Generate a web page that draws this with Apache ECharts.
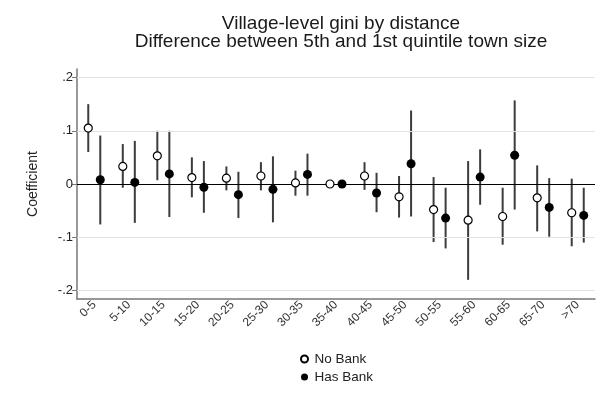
<!DOCTYPE html>
<html>
<head>
<meta charset="utf-8">
<script src="https://cdn.jsdelivr.net/npm/echarts@6/dist/echarts.min.js"></script>
<style>html,body{margin:0;padding:0;background:#fff}#c{width:603px;height:406px}</style>
</head>
<body>
<div id="c"></div>
<script>
var categories = ['0-5','5-10','10-15','15-20','20-25','25-30','30-35','35-40','40-45','45-50','50-55','55-60','60-65','65-70','>70'];
var noBankCoef = [0.105, 0.033, 0.053, 0.012, 0.011, 0.015, 0.002, 0.000, 0.015, -0.024, -0.048, -0.068, -0.061, -0.026, -0.054];
var noBankLo   = [0.060, -0.007, 0.007, -0.025, -0.012, -0.012, -0.022, -0.002, -0.011, -0.063, -0.109, -0.180, -0.114, -0.089, -0.117];
var noBankHi   = [0.150, 0.075, 0.100, 0.050, 0.033, 0.041, 0.025, 0.002, 0.041, 0.015, 0.013, 0.043, -0.007, 0.035, 0.010];
var hasBankCoef = [0.008, 0.003, 0.019, -0.006, -0.020, -0.010, 0.018, 0.000, -0.017, 0.038, -0.064, 0.013, 0.054, -0.044, -0.059];
var hasBankLo   = [-0.076, -0.073, -0.062, -0.054, -0.064, -0.072, -0.022, -0.002, -0.053, -0.061, -0.121, -0.039, -0.048, -0.099, -0.110];
var hasBankHi   = [0.091, 0.081, 0.100, 0.043, 0.023, 0.052, 0.057, 0.002, 0.021, 0.138, -0.007, 0.065, 0.157, 0.011, -0.007];
var yTicks = [-0.2, -0.1, 0, 0.1, 0.2];
var yTickLabels = ['-.2', '-.1', '0', '.1', '.2'];

var OFF = 0.174;
var FONT = 'Liberation Sans, Arial, Helvetica, sans-serif';
function pts(coef, off) { return coef.map(function (v, i) { return [i + off, v]; }); }
function bars(lo, hi, off) { return lo.map(function (v, i) { return [i + off, v, hi[i]]; }); }

function errRender(params, api) {
  var p1 = api.coord([api.value(0), api.value(1)]);
  var p2 = api.coord([api.value(0), api.value(2)]);
  return { type: 'line', shape: { x1: p1[0], y1: p1[1], x2: p2[0], y2: p2[1] },
    style: { stroke: '#3c3c3c', lineWidth: 2 } };
}

var chart = echarts.init(document.getElementById('c'), null, { renderer: 'canvas' });
chart.setOption({
  animation: false,
  backgroundColor: '#fff',
  title: {
    text: 'Village-level gini by distance\nDifference between 5th and 1st quintile town size',
    left: 336, top: 10, textAlign: 'center',
    textStyle: { fontFamily: FONT, fontWeight: 'normal', fontSize: 19, color: '#1a1a1a', lineHeight: 18 }
  },
  legend: {
    data: ['No Bank', 'Has Bank'],
    orient: 'vertical', left: 295, top: 347, itemGap: 4, itemWidth: 10, itemHeight: 7,
    textStyle: { fontFamily: FONT, fontSize: 13.5, color: '#222' }
  },
  grid: { left: 77, right: 8, top: 69, bottom: 107 },
  xAxis: [{
    type: 'category', data: categories, boundaryGap: true,
    axisLine: { onZero: false, lineStyle: { color: '#777', width: 1.5 } },
    axisTick: { alignWithLabel: true, length: 5, lineStyle: { color: '#777' } },
    axisLabel: { rotate: 45, fontSize: 12, color: '#333', margin: 4, interval: 0, fontFamily: FONT },
    splitLine: { show: false }
  }, {
    type: 'value', min: -0.5, max: 14.5, show: false
  }],
  yAxis: {
    type: 'value', min: -0.216, max: 0.216,
    name: 'Coefficient', nameLocation: 'middle', nameGap: 37, nameRotate: 90,
    nameTextStyle: { fontFamily: FONT, fontSize: 14, color: '#222' },
    axisLine: { show: true, onZero: false, lineStyle: { color: '#777', width: 1.5 } },
    axisTick: { show: true, length: 5, customValues: yTicks, lineStyle: { color: '#777' } },
    axisLabel: { customValues: yTicks, fontSize: 13, color: '#222', margin: 4, fontFamily: FONT,
      formatter: function (v) { var i = yTicks.findIndex(function (t) { return Math.abs(t - v) < 1e-9; }); return i >= 0 ? yTickLabels[i] : ''; } },
    splitLine: { show: false }
  },
  series: [{
    type: 'line', xAxisIndex: 1, data: [], silent: true,
    markLine: { silent: true, symbol: 'none', label: { show: false },
      lineStyle: { color: '#e3e3e3', width: 1, type: 'solid' },
      data: yTicks.filter(function (t) { return t !== 0; }).map(function (t) { return { yAxis: t }; }) }
  }, {
    type: 'line', xAxisIndex: 1, data: [], silent: true,
    markLine: { silent: true, symbol: 'none', label: { show: false },
      lineStyle: { color: '#000', width: 1.2, type: 'solid' },
      data: [{ yAxis: 0 }] }
  }, {
    type: 'custom', xAxisIndex: 1, renderItem: errRender, data: bars(noBankLo, noBankHi, -OFF), z: 3
  }, {
    type: 'custom', xAxisIndex: 1, renderItem: errRender, data: bars(hasBankLo, hasBankHi, OFF), z: 3
  }, {
    name: 'No Bank', type: 'scatter', xAxisIndex: 1, data: pts(noBankCoef, -OFF),
    symbol: 'circle', symbolSize: 8, z: 5,
    itemStyle: { color: '#fff', borderColor: '#000', borderWidth: 1.2, opacity: 1 }
  }, {
    name: 'Has Bank', type: 'scatter', xAxisIndex: 1, data: pts(hasBankCoef, OFF),
    symbol: 'circle', symbolSize: 9, z: 5,
    itemStyle: { color: '#000', opacity: 1 }
  }]
});
</script>
</body>
</html>
